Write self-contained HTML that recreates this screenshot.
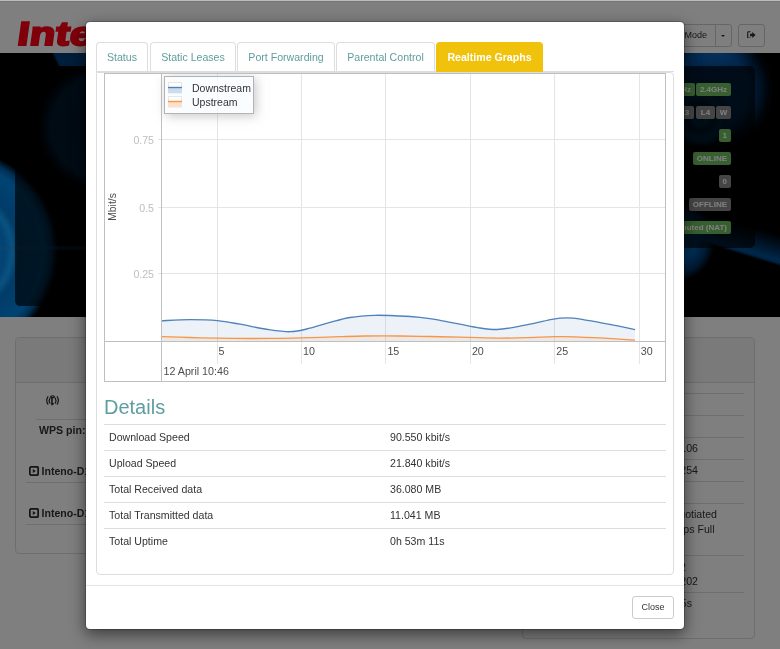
<!DOCTYPE html>
<html lang="en">
<head>
<meta charset="utf-8">
<title>Inteno - Realtime Graphs</title>
<style>
*{box-sizing:border-box;}
html,body{margin:0;padding:0;}
body{width:780px;height:649px;overflow:hidden;position:relative;background:#fff;
 font-family:"Liberation Sans",Arial,sans-serif;font-size:11px;line-height:16px;color:#333;}
.abs{position:absolute;}
/* ---------- underlying page ---------- */
#page{position:absolute;left:0;top:0;width:780px;height:649px;background:#fff;overflow:hidden;}
#hdr{position:absolute;left:0;top:0;width:780px;height:53px;background:#fff;}
#logo{position:absolute;left:15px;top:12px;font:bold 33px/44px "Liberation Sans",sans-serif;color:#ff0014;letter-spacing:0.5px;-webkit-text-stroke:2.2px #ff0014;transform-origin:0 100%;transform:skewX(-8deg) scale(1.25,1);}
.btn{position:absolute;background:#fff;border:1px solid #ccc;border-radius:3px;color:#333;font-size:9px;line-height:21px;text-align:center;}
#hero{position:absolute;left:0;top:53px;width:780px;height:264px;overflow:hidden;background:
 linear-gradient(0deg, rgba(40,140,220,.35), rgba(40,140,220,.35)) 0 193px/300px 4px no-repeat,
 radial-gradient(circle 102px at -44px 198px, rgba(10,150,250,1) 0, rgba(6,135,230,1) 48%, rgba(20,165,255,1) 55%, rgba(4,120,210,1) 62%, rgba(0,135,230,1) 86%, rgba(0,110,195,.85) 93%, rgba(0,0,0,0) 100%),
 radial-gradient(circle 64px at 102px 74px, rgba(0,60,110,1) 0, rgba(0,66,120,1) 80%, rgba(0,40,75,.6) 92%, rgba(0,0,0,0) 100%),
 linear-gradient(65deg, rgba(0,0,0,0) 0, rgba(0,0,0,0) 52px, rgba(0,62,120,1) 55px, rgba(0,55,110,1) 100%) 0 0/100px 13px no-repeat,
 radial-gradient(circle 30px at 700px 64px, rgba(0,50,85,1) 0, rgba(0,85,140,1) 22%, rgba(0,45,80,1) 45%, rgba(0,80,135,1) 72%, rgba(0,60,105,.9) 86%, rgba(0,0,0,0) 100%),
 radial-gradient(ellipse 40px 22px at 716px 0px, rgba(20,110,200,.7) 0, rgba(0,0,0,0) 100%),
 radial-gradient(circle 62px at 712px 36px, rgba(0,70,140,1) 0, rgba(0,70,140,1) 60%, rgba(0,55,110,.7) 76%, rgba(0,35,70,.3) 90%, rgba(0,0,0,0) 100%),
 radial-gradient(circle 41px at 674px 188px, rgba(0,110,200,.95) 0, rgba(0,100,185,.9) 55%, rgba(0,70,135,.7) 82%, rgba(0,0,0,0) 100%),
 linear-gradient(197deg, rgba(0,0,0,0) 0, rgba(0,0,0,0) 174px, rgba(0,60,115,.5) 184px, rgba(0,85,160,.9) 198px, rgba(0,80,150,.9) 201px, rgba(0,0,0,0) 204px) 690px 0/90px 264px no-repeat,
 #000;}
.dpanel{position:absolute;background:rgba(0,0,0,.66);border-radius:5px;}
.lab{position:absolute;height:13px;border-radius:2px;color:#fff;font-weight:bold;font-size:8px;line-height:13px;text-align:center;white-space:nowrap;padding:0 4px;}
.g{background:#6fbf5f;}
.d{background:#8a8a8a;}
.panel{position:absolute;background:#fff;border:1px solid #ddd;border-radius:4px;}
.panel .ph{position:absolute;left:0;top:0;right:0;height:45px;background:#f5f5f5;border-bottom:1px solid #ddd;border-radius:3px 3px 0 0;}
.hl{position:absolute;height:1px;background:#ddd;}
.t{position:absolute;white-space:nowrap;line-height:14px;font-size:10.6px;color:#333;}
.b{font-weight:bold;}
#backdrop{position:absolute;left:0;top:0;width:780px;height:649px;background:rgba(0,0,0,.5);}
/* ---------- modal ---------- */
#modal{position:absolute;left:85px;top:21px;width:600px;height:609px;background:#fff;border:1px solid rgba(0,0,0,.2);border-radius:5px;
 box-shadow:0 5px 15px rgba(0,0,0,.5);background-clip:padding-box;}
.tab{position:absolute;top:20px;height:29px;border:1px solid #ddd;border-bottom:none;border-radius:4px 4px 0 0;color:#5f9ea0;
 text-align:center;line-height:29px;font-size:10.6px;background:#fff;}
.tab.act{height:30px;background:#f1c20b;border-color:#f1c20b;color:#fff;font-weight:bold;}
#navline{position:absolute;left:10px;top:49px;width:578px;height:1px;background:#ddd;}
#pane{position:absolute;left:10px;top:50px;width:578px;height:503px;border:1px solid #ddd;border-radius:0 4px 4px 4px;}
#chart{position:absolute;left:7px;top:0px;width:562px;height:309px;border:1px solid #bfbfbf;overflow:hidden;}
#mfoot{position:absolute;left:0;top:563px;width:598px;height:44px;border-top:1px solid #e5e5e5;}
#close{position:absolute;left:546px;top:10px;width:42px;height:23px;border:1px solid #ccc;border-radius:3px;background:#fff;color:#333;
 font-size:9px;line-height:21px;text-align:center;}
h3{position:absolute;margin:0;left:7px;top:323px;font-size:20px;line-height:22px;font-weight:normal;color:#5f9ea0;}
.row{position:absolute;left:7px;width:562px;height:26px;border-top:1px solid #ddd;}
.row span{position:absolute;top:4px;line-height:16px;font-size:10.6px;white-space:nowrap;}
.row .k{left:5px;}
.row .v{left:286px;}
#chart .yl{position:absolute;left:0;width:49px;text-align:right;font-size:10.6px;line-height:14px;color:#bebebe;}
#chart .ytitle{position:absolute;left:2px;top:133px;width:40px;height:14px;margin-left:-14px;margin-top:-7px;text-align:center;font-size:10.4px;line-height:14px;color:#4d4d4d;transform:rotate(-90deg);transform-origin:50% 50%;}
#chart .xl{position:absolute;top:270px;font-size:10.7px;line-height:14px;color:#4d4d4d;white-space:nowrap;}
#legend{position:absolute;left:59px;top:2px;width:90px;height:38px;border:1px solid #b3b3b3;background:rgba(247,252,255,.65);box-shadow:2px 2px 10px rgba(154,154,154,.55);}
#legend .lt{position:absolute;left:27px;font-size:10.5px;line-height:14px;color:#333;white-space:nowrap;}
</style>
</head>
<body>
<div id="page">
 <div id="hdr">
  <div id="logo">Inteno</div>
  <div class="btn" style="left:640px;top:24px;width:76px;height:23px;border-radius:3px 0 0 3px;text-align:right;padding-right:8px;">Expert Mode</div>
  <div class="btn" style="left:715px;top:24px;width:17px;height:23px;border-radius:0 3px 3px 0;"><svg class="abs" style="left:5px;top:10px" width="4" height="2" viewBox="0 0 4 2"><path d="M0 0h4L2 2z" fill="#333"/></svg></div>
  <div class="btn" style="left:738px;top:24px;width:27px;height:23px;"><svg class="abs" style="left:8px;top:5.5px" width="8.8" height="7.9" viewBox="0 0 10 9"><path d="M4 0.8H1.8Q0.8 0.8 0.8 1.8V7.2Q0.8 8.2 1.8 8.2H4" fill="none" stroke="#333" stroke-width="1.3"/><path d="M3.4 3.1H6V1L9.8 4.5 6 8V5.9H3.4z" fill="#333"/></svg></div>
 </div>
 <div id="hero">
  <div class="dpanel" style="left:15px;top:13px;width:360px;height:240px;"></div>
  <div class="dpanel" style="left:395px;top:13px;width:360px;height:182px;"></div>
  <div class="lab g" style="right:49px;top:30px;">2.4GHz</div>
  <div class="lab g" style="right:85px;top:30px;">5GHz</div>
  <div class="lab d" style="left:716px;width:15px;padding:0;top:53px;">W</div>
  <div class="lab d" style="left:696px;width:19px;padding:0;top:53px;">L4</div>
  <div class="lab d" style="left:675px;width:19px;padding:0;top:53px;">L3</div>
  <div class="lab g" style="right:49px;top:76px;">1</div>
  <div class="lab g" style="right:49px;top:99px;">ONLINE</div>
  <div class="lab d" style="right:49px;top:122px;">0</div>
  <div class="lab d" style="right:49px;top:145px;">OFFLINE</div>
  <div class="lab g" style="right:49px;top:168px;">Routed (NAT)</div>
 </div>
 <div class="panel" style="left:15px;top:337px;width:492px;height:217px;"><div class="ph"></div>
  <svg class="abs" style="left:29px;top:56.5px;" width="15" height="11" viewBox="0 -0.5 15 11"><g fill="none" stroke="#222" stroke-width="1.15" stroke-linecap="round"><path d="M2.9 1.2Q0.6 4.9 2.9 8.6"/><path d="M4.9 2.6Q3.4 5.1 4.9 7.6"/><path d="M12.2 1.2Q14.5 4.9 12.2 8.6"/><path d="M10.2 2.6Q11.7 5.1 10.2 7.6"/><ellipse cx="7.5" cy="1.2" rx="1.9" ry="1.0"/></g><path d="M6.2 2h1.5v5.4h1.1v1.6h-1.1v0.8h-1.5z" fill="#222"/></svg>
  <div class="hl" style="left:20px;top:81px;width:456px;"></div>
  <div class="t b" style="left:23px;top:85px;">WPS pin: 12345670</div>
  <svg class="abs" style="left:12.5px;top:128px;" width="10" height="10" viewBox="0 0 10 10"><rect x="0.8" y="0.8" width="8.4" height="8.4" rx="1.6" fill="none" stroke="#2a2a2a" stroke-width="1.8"/><path d="M3.8 2.9L6.9 5 3.8 7.1z" fill="#333"/></svg>
  <div class="t b" style="left:25.5px;top:125.5px;">Inteno-D1E0</div>
  <div class="hl" style="left:10px;top:144px;width:466px;"></div>
  <svg class="abs" style="left:12.5px;top:170px;" width="10" height="10" viewBox="0 0 10 10"><rect x="0.8" y="0.8" width="8.4" height="8.4" rx="1.6" fill="none" stroke="#2a2a2a" stroke-width="1.8"/><path d="M3.8 2.9L6.9 5 3.8 7.1z" fill="#333"/></svg>
  <div class="t b" style="left:25.5px;top:167.5px;">Inteno-D1E0-5GHz</div>
  <div class="hl" style="left:10px;top:186px;width:466px;"></div>
 </div>
 <div class="panel" style="left:522px;top:337px;width:233px;height:302px;"><div class="ph"></div>
  <div class="hl" style="left:10px;top:55px;width:211px;"></div>
  <div class="hl" style="left:10px;top:77px;width:211px;"></div>
  <div class="hl" style="left:10px;top:99px;width:211px;"></div>
  <div class="hl" style="left:10px;top:121px;width:211px;"></div>
  <div class="hl" style="left:10px;top:143px;width:211px;"></div>
  <div class="hl" style="left:10px;top:165px;width:211px;"></div>
  <div class="hl" style="left:10px;top:217px;width:211px;"></div>
  <div class="hl" style="left:10px;top:254px;width:211px;"></div>
  <div class="t" style="right:56.0px;top:103px;">192.168.1.106</div>
  <div class="t" style="right:56.0px;top:125px;">192.168.1.254</div>
  <div class="t" style="right:37.0px;top:169px;">Auto-negotiated</div>
  <div class="t" style="right:39.5px;top:184px;">1000 Mbps Full</div>
  <div class="t" style="right:78.0px;top:199px;">Duplex</div>
  <div class="t" style="right:68.0px;top:222px;">192.168.1.2</div>
  <div class="t" style="right:56.0px;top:236px;">192.168.1.202</div>
  <div class="t" style="right:62.0px;top:258px;">0h 53m 5s</div>
  <div class="t b" style="left:15px;top:63px;">Line Status</div>
  <div class="t b" style="left:15px;top:85px;">Connection Type</div>
  <div class="t b" style="left:15px;top:107px;">IP Address</div>
  <div class="t b" style="left:15px;top:129px;">Gateway</div>
  <div class="t b" style="left:15px;top:151px;">Primary DNS</div>
  <div class="t b" style="left:15px;top:173px;">Link Speed</div>
  <div class="t b" style="left:15px;top:225px;">DNS Servers</div>
  <div class="t b" style="left:15px;top:262px;">Connection Uptime</div>
 </div>
</div>
<div id="backdrop"></div>
<div class="abs" style="left:0;top:0;width:780px;height:1px;background:#bebabe;"></div>
<div class="abs" style="left:0;top:1px;width:780px;height:1px;background:#767676;"></div>
<div id="modal">
 <div id="navline"></div>
 <div class="tab" style="left:10px;width:52px;">Status</div>
 <div class="tab" style="left:64px;width:86px;">Static Leases</div>
 <div class="tab" style="left:151px;width:98px;">Port Forwarding</div>
 <div class="tab" style="left:250px;width:99px;">Parental Control</div>
 <div class="tab act" style="left:350px;width:107px;">Realtime Graphs</div>
 <div id="pane">
  <div id="chart"><!--CS--><svg class="abs" style="left:0;top:0" width="560" height="307" viewBox="0 0 560 307">
<rect x="112" y="0" width="1" height="290" fill="#e5e5e5"/>
<rect x="196" y="0" width="1" height="290" fill="#e5e5e5"/>
<rect x="280" y="0" width="1" height="290" fill="#e5e5e5"/>
<rect x="365" y="0" width="1" height="290" fill="#e5e5e5"/>
<rect x="449" y="0" width="1" height="290" fill="#e5e5e5"/>
<rect x="534" y="0" width="1" height="290" fill="#e5e5e5"/>
<rect x="53" y="65" width="507" height="1" fill="#e5e5e5"/>
<rect x="53" y="133" width="507" height="1" fill="#e5e5e5"/>
<rect x="53" y="199" width="507" height="1" fill="#e5e5e5"/>
<path d="M56.5 246.8 C61.2 246.6 75.7 245.6 85.0 245.6 C94.3 245.6 104.2 245.8 112.5 246.6 C120.8 247.4 127.1 248.8 135.0 250.2 C142.9 251.6 151.7 253.8 160.0 255.0 C168.3 256.2 177.5 257.8 185.0 257.7 C192.5 257.6 198.3 255.8 205.0 254.2 C211.7 252.6 218.3 250.2 225.0 248.4 C231.7 246.6 237.5 244.7 245.0 243.5 C252.5 242.3 261.7 241.6 270.0 241.3 C278.3 241.1 287.5 241.7 295.0 242.0 C302.5 242.3 308.3 242.7 315.0 243.4 C321.7 244.1 328.3 245.2 335.0 246.3 C341.7 247.4 348.3 248.9 355.0 250.2 C361.7 251.5 368.8 253.1 375.0 254.0 C381.2 254.9 386.2 255.6 392.0 255.5 C397.8 255.4 403.7 254.3 410.0 253.2 C416.3 252.1 423.8 250.4 430.0 249.1 C436.2 247.8 441.7 246.2 447.0 245.3 C452.3 244.4 457.0 243.9 462.0 243.9 C467.0 243.9 471.5 244.5 477.0 245.3 C482.5 246.1 488.7 247.4 495.0 248.6 C501.3 249.8 509.2 251.2 515.0 252.4 C520.8 253.6 527.5 255.1 530.0 255.7 L530.0 267 L56.5 267 Z" fill="#4f81bd" fill-opacity="0.1"/>
<path d="M56.5 246.8 C61.2 246.6 75.7 245.6 85.0 245.6 C94.3 245.6 104.2 245.8 112.5 246.6 C120.8 247.4 127.1 248.8 135.0 250.2 C142.9 251.6 151.7 253.8 160.0 255.0 C168.3 256.2 177.5 257.8 185.0 257.7 C192.5 257.6 198.3 255.8 205.0 254.2 C211.7 252.6 218.3 250.2 225.0 248.4 C231.7 246.6 237.5 244.7 245.0 243.5 C252.5 242.3 261.7 241.6 270.0 241.3 C278.3 241.1 287.5 241.7 295.0 242.0 C302.5 242.3 308.3 242.7 315.0 243.4 C321.7 244.1 328.3 245.2 335.0 246.3 C341.7 247.4 348.3 248.9 355.0 250.2 C361.7 251.5 368.8 253.1 375.0 254.0 C381.2 254.9 386.2 255.6 392.0 255.5 C397.8 255.4 403.7 254.3 410.0 253.2 C416.3 252.1 423.8 250.4 430.0 249.1 C436.2 247.8 441.7 246.2 447.0 245.3 C452.3 244.4 457.0 243.9 462.0 243.9 C467.0 243.9 471.5 244.5 477.0 245.3 C482.5 246.1 488.7 247.4 495.0 248.6 C501.3 249.8 509.2 251.2 515.0 252.4 C520.8 253.6 527.5 255.1 530.0 255.7" fill="none" stroke="#4f81bd" stroke-width="1.35" stroke-linejoin="round"/>
<path d="M56.5 262.7 C61.2 262.8 75.7 263.2 85.0 263.5 C94.3 263.8 102.5 264.0 112.5 264.2 C122.5 264.4 134.6 264.5 145.0 264.5 C155.4 264.5 165.0 264.4 175.0 264.3 C185.0 264.2 195.0 263.9 205.0 263.6 C215.0 263.3 225.8 263.0 235.0 262.7 C244.2 262.4 250.0 262.1 260.0 262.0 C270.0 261.9 284.2 261.9 295.0 262.0 C305.8 262.1 315.0 262.3 325.0 262.5 C335.0 262.7 343.8 262.9 355.0 263.2 C366.2 263.5 381.2 264.0 392.0 264.1 C402.8 264.2 410.3 263.9 420.0 263.7 C429.7 263.5 441.7 262.8 450.0 262.7 C458.3 262.6 462.5 262.6 470.0 262.8 C477.5 263.0 487.5 263.5 495.0 263.9 C502.5 264.3 509.2 264.7 515.0 265.1 C520.8 265.5 527.5 266.0 530.0 266.2 L530.0 267 L56.5 267 Z" fill="#f79646" fill-opacity="0.1"/>
<path d="M56.5 262.7 C61.2 262.8 75.7 263.2 85.0 263.5 C94.3 263.8 102.5 264.0 112.5 264.2 C122.5 264.4 134.6 264.5 145.0 264.5 C155.4 264.5 165.0 264.4 175.0 264.3 C185.0 264.2 195.0 263.9 205.0 263.6 C215.0 263.3 225.8 263.0 235.0 262.7 C244.2 262.4 250.0 262.1 260.0 262.0 C270.0 261.9 284.2 261.9 295.0 262.0 C305.8 262.1 315.0 262.3 325.0 262.5 C335.0 262.7 343.8 262.9 355.0 263.2 C366.2 263.5 381.2 264.0 392.0 264.1 C402.8 264.2 410.3 263.9 420.0 263.7 C429.7 263.5 441.7 262.8 450.0 262.7 C458.3 262.6 462.5 262.6 470.0 262.8 C477.5 263.0 487.5 263.5 495.0 263.9 C502.5 264.3 509.2 264.7 515.0 265.1 C520.8 265.5 527.5 266.0 530.0 266.2" fill="none" stroke="#f79646" stroke-width="1.35" stroke-linejoin="round"/>
<rect x="56" y="0" width="1" height="307" fill="#bfbfbf"/>
<rect x="0" y="267" width="560" height="1" fill="#bfbfbf"/>
</svg>
<div class="yl" style="top:59px">0.75</div>
<div class="yl" style="top:127px">0.5</div>
<div class="yl" style="top:193px">0.25</div>
<div class="ytitle">Mbit/s</div>
<div class="xl" style="left:113.6px">5</div>
<div class="xl" style="left:198.0px">10</div>
<div class="xl" style="left:282.4px">15</div>
<div class="xl" style="left:366.9px">20</div>
<div class="xl" style="left:451.3px">25</div>
<div class="xl" style="left:535.7px">30</div>
<div class="xl" style="left:58.5px;top:290px">12 April 10:46</div>
<div id="legend"><svg class="abs" style="left:3px;top:5px" width="16" height="27" viewBox="0 0 16 27"><rect x="0.5" y="0.5" width="13" height="10.5" fill="#fff" stroke="#e6e6e6" stroke-width="1"/><rect x="0" y="5.5" width="14" height="5.5" fill="#cddbed"/><rect x="0" y="4.8" width="14" height="1.4" fill="#4f81bd"/><rect x="0.5" y="14.5" width="13" height="10.5" fill="#fff" stroke="#e6e6e6" stroke-width="1"/><rect x="0" y="19.5" width="14" height="5.5" fill="#fde0ca"/><rect x="0" y="18.8" width="14" height="1.4" fill="#f79646"/></svg><div class="lt" style="top:4.4px">Downstream</div><div class="lt" style="top:18.4px">Upstream</div></div><!--CE--></div>
  <h3>Details</h3>
  <div class="row" style="top:351px;"><span class="k">Download Speed</span><span class="v">90.550 kbit/s</span></div>
  <div class="row" style="top:377px;"><span class="k">Upload Speed</span><span class="v">21.840 kbit/s</span></div>
  <div class="row" style="top:403px;"><span class="k">Total Received data</span><span class="v">36.080 MB</span></div>
  <div class="row" style="top:429px;"><span class="k">Total Transmitted data</span><span class="v">11.041 MB</span></div>
  <div class="row" style="top:455px;"><span class="k">Total Uptime</span><span class="v">0h 53m 11s</span></div>
 </div>
 <div id="mfoot"><div id="close">Close</div></div>
</div>
</body>
</html>
